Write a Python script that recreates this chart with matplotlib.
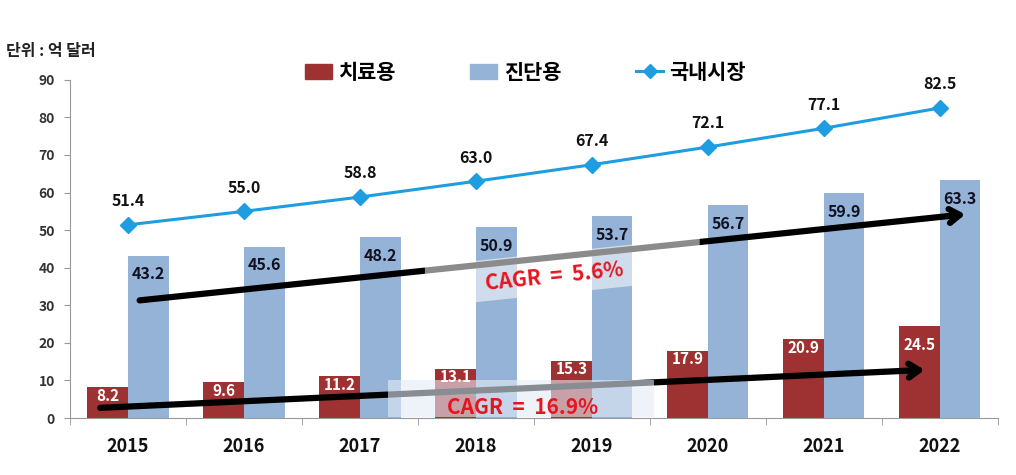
#!/usr/bin/env python3
# Korean diagnostics/therapeutics market chart -> out.png
import matplotlib
matplotlib.use("Agg")
import matplotlib.pyplot as plt
from matplotlib.patches import Patch, Polygon, Rectangle
from matplotlib.lines import Line2D
import numpy as np

plt.rcParams["font.family"] = ["Noto Sans CJK KR", "DejaVu Sans"]

# --- data ---
years = ["2015", "2016", "2017", "2018", "2019", "2020", "2021", "2022"]
treat = [8.2, 9.6, 11.2, 13.1, 15.3, 17.9, 20.9, 24.5]      # 치료용
diag = [43.2, 45.6, 48.2, 50.9, 53.7, 56.7, 59.9, 63.3]     # 진단용
domestic = [51.4, 55.0, 58.8, 63.0, 67.4, 72.1, 77.1, 82.5]  # 국내시장
cagr_diag = "CAGR  =  5.6%"
cagr_treat = "CAGR  =  16.9%"

RED = "#9E3232"
BLUE = "#95B3D7"
LINE = "#1E9EE0"
CAGR_RED = "#E8141E"

fig = plt.figure(figsize=(10.16, 4.75), dpi=100)
ax = fig.add_axes([0.069, 0.12, 0.913, 0.712])

x = np.arange(len(years))
w = 0.35
ax.bar(x - w / 2, treat, w, color=RED, zorder=2)
ax.bar(x + w / 2, diag, w, color=BLUE, zorder=2)
ax.plot(x, domestic, color=LINE, lw=2.2, marker="D", ms=8.5, zorder=4)

# value labels
for i in range(len(years)):
    ry = treat[i] - (5.2 if i == len(years) - 1 else 2.3)
    ax.text(x[i] - w / 2, ry, f"{treat[i]:.1f}", ha="center", va="center",
            color="white", fontsize=11, fontweight="bold", zorder=6)
    ax.text(x[i] + w / 2, diag[i] - 5.0, f"{diag[i]:.1f}", ha="center", va="center",
            color="#111122", fontsize=11.5, fontweight="bold", zorder=6)
    ax.text(x[i], domestic[i] + 6.3, f"{domestic[i]:.1f}", ha="center", va="center",
            color="#111111", fontsize=11.5, fontweight="bold", zorder=6)

# trend arrows
def trend(x0, y0, x1, y1):
    ax.annotate("", xy=(x1, y1), xytext=(x0, y0), zorder=5,
                arrowprops=dict(arrowstyle="->,head_length=0.75,head_width=0.5",
                                color="black", lw=4.5, shrinkA=0, shrinkB=0))

ux0, uy0, ux1, uy1 = 0.10, 31.3, 7.22, 54.2
lx0, ly0, lx1, ly1 = -0.24, 2.7, 6.87, 12.8
trend(ux0, uy0, ux1, uy1)
trend(lx0, ly0, lx1, ly1)

# translucent bands behind CAGR text
slope = (uy1 - uy0) / (ux1 - ux0)
bx0, bx1 = 2.56, 4.93
top0 = uy0 + slope * (bx0 - ux0) + 1.2
top1 = uy0 + slope * (bx1 - ux0) + 1.2
band = Polygon([(bx0, top0), (bx1, top1), (bx1, top1 - 11.0), (bx0, top0 - 11.0)],
               closed=True, facecolor="white", alpha=0.55, edgecolor="none", zorder=5.5)
ax.add_patch(band)
ax.add_patch(Rectangle((2.24, 0.2), 2.3, 9.8, facecolor="#E4ECF7", alpha=0.6,
                       edgecolor="none", zorder=5.5))

ang = np.degrees(np.arctan2(85, 828))
ax.text(3.68, 37.6, cagr_diag, ha="center", va="center", color=CAGR_RED,
        fontsize=15, fontweight="bold", rotation=ang, zorder=7)
ax.text(3.4, 2.9, cagr_treat, ha="center", va="center", color=CAGR_RED,
        fontsize=15, fontweight="bold", zorder=7)

# axes styling
ax.set_xlim(-0.5, len(years) - 0.5)
ax.set_ylim(0, 90)
ax.set_yticks(range(0, 91, 10))
ax.set_xticks(x)
ax.set_xticklabels(years, fontsize=13, fontweight="bold", color="#111111")
ax.set_xticks(np.arange(-0.5, len(years)), minor=True)
ax.tick_params(axis="x", which="major", length=0, pad=14)
ax.tick_params(axis="x", which="minor", length=5, color="#999999", direction="out")
ax.tick_params(axis="y", length=4, pad=7, color="#999999", labelsize=10, labelcolor="#333333")
for lbl in ax.get_yticklabels():
    lbl.set_fontweight("bold")
for s in ["top", "right"]:
    ax.spines[s].set_visible(False)
for s in ["left", "bottom"]:
    ax.spines[s].set_color("#999999")

# legend
handles = [Patch(color=RED), Patch(color=BLUE),
           Line2D([], [], color=LINE, lw=2.2, marker="D", ms=7)]
fig.legend(handles, ["치료용", "진단용", "국내시장"], loc="center",
           bbox_to_anchor=(0.517, 0.848), ncol=3, frameon=False,
           prop={"size": 15, "weight": "bold"}, handlelength=1.3,
           handletextpad=0.3, columnspacing=3.6)

fig.text(0.006, 0.893, "단위 : 억 달러", fontsize=11.5, fontweight="bold",
         color="#222222", va="center")

fig.savefig("out.png", dpi=100)
